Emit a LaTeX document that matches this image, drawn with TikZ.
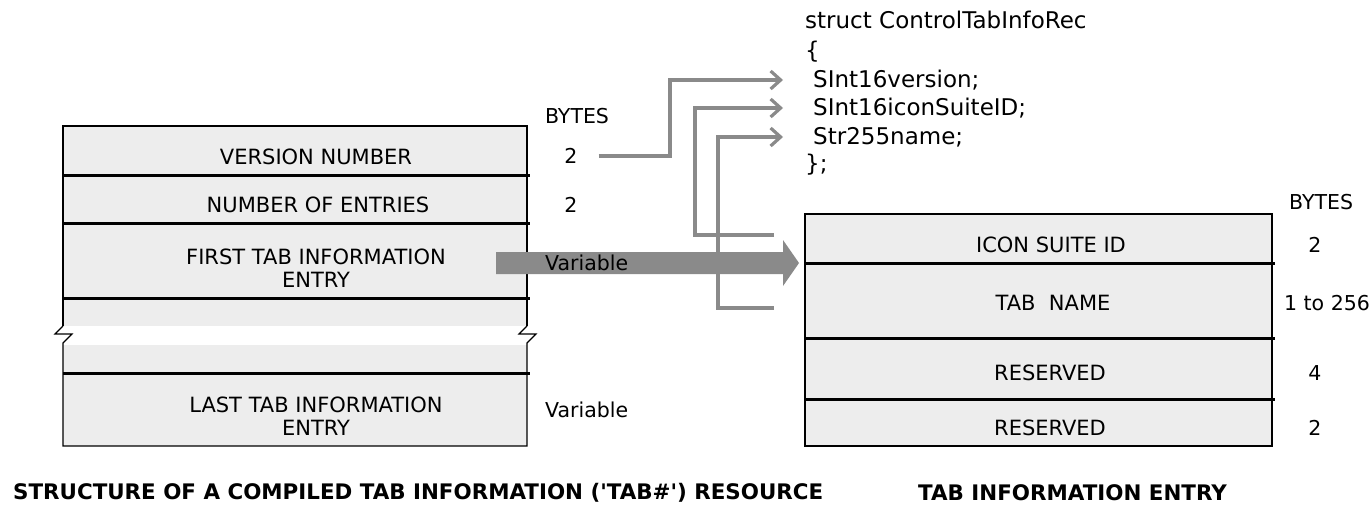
\documentclass[tikz,border=0pt]{standalone}
\usepackage{fontspec}
\setmainfont{DejaVu Sans}[Ligatures=TeXOff]
\usetikzlibrary{arrows.meta}
\definecolor{boxfill}{HTML}{EDEDED}
\definecolor{conncol}{HTML}{8A8A8A}
\begin{document}
\begin{tikzpicture}[x=1pt,y=-1pt,
  lbl/.style={font=\fontsize{21}{23.5}\selectfont, inner sep=0pt, align=center},
  side/.style={font=\fontsize{20.5}{24}\selectfont, inner sep=0pt},
  code/.style={font=\fontsize{23}{28}\selectfont, inner sep=0pt, anchor=west},
  ttl/.style={font=\fontsize{21.4}{24}\selectfont\bfseries, inner sep=0pt, anchor=west},
  sepline/.style={line width=3pt},
  frame/.style={line width=1.2pt},
  conn/.style={draw=conncol, line width=3.2pt, -{Straight Barb[length=10pt,width=18pt]}},
  bigarrow/.style={fill=conncol}]
\useasboundingbox (0,0) rectangle (1372,504);

% ---------- left structure ----------
\fill[boxfill] (63,126) rectangle (527,326);
\fill[boxfill] (63,345) rectangle (527,446);
\draw[frame] (63,326) -- (63,126) -- (527,126) -- (527,326);
\draw[frame] (63,326) -- (55,334) -- (72,334) -- (63,343) -- (63,446) -- (527,446)
  -- (527,343) -- (536,334) -- (519,334) -- (527,326);
\foreach \yy in {175,223,298,373} \draw[sepline] (63,\yy) -- (530,\yy);

\node[lbl] (vn) at (316,157) {VERSION NUMBER};
\node[lbl] (ne) at (318,205) {NUMBER OF ENTRIES};
\node[lbl] (ft) at (316,268) {FIRST TAB INFORMATION\\ENTRY};
\node[lbl] (lt) at (316,416) {LAST TAB INFORMATION\\ENTRY};

\node[side] (b1) at (577,116) {BYTES};
\node[side] (n1) at (571,156) {2};
\node[side] (n2) at (571,205) {2};
\node[side] (var2) at (545,410) [anchor=west] {Variable};

% ---------- big arrow ----------
\coordinate (ga1) at (496,263);
\coordinate (ga2) at (799,263);
\fill[bigarrow] (ga1) ++(0,-11) -- (783,252) -- (783,240) -- (ga2) -- (783,286)
  -- (783,274) -- (496,274) -- cycle;
\node[side] (var1) at (545,263) [anchor=west] {Variable};

% ---------- struct text ----------
\node[code] (s1) at (805,20) {struct ControlTabInfoRec};
\node[code] (s2) at (805,52) {\{};
\node[code] (s3) at (813,80) {SInt16version;};
\node[code] (s4) at (813,108) {SInt16iconSuiteID;};
\node[code] (s5) at (813,137) {Str255name;};
\node[code] (s6) at (805,165) {\};};

% ---------- right structure ----------
\filldraw[fill=boxfill, frame] (805,214) rectangle (1272,446);
\foreach \yy in {263,338,399} \draw[sepline] (805,\yy) -- (1275,\yy);

\node[lbl] (ic) at (1051,245) {ICON SUITE ID};
\node[lbl] (tn) at (1053,303) {TAB\ \ NAME};
\node[lbl] (r1) at (1050,373) {RESERVED};
\node[lbl] (r2) at (1050,428) {RESERVED};

\node[side] (b2) at (1321,202) {BYTES};
\node[side] (m1) at (1315,245) {2};
\node[side] (m2) at (1327,303) {1 to 256};
\node[side] (m3) at (1315,373) {4};
\node[side] (m4) at (1315,428) {2};

% ---------- connectors ----------
\coordinate (cx1) at (670,0);
\coordinate (cx2) at (695,0);
\coordinate (cx3) at (718,0);
\coordinate (t2) at (774,235);
\coordinate (t3) at (774,308);
\draw[conn, shorten <=21pt, shorten >=30pt] (n1.east) -- (n1.east -| cx1) |- (s3.west);
\draw[conn, shorten >=30pt] (t2) -- (t2 -| cx2) |- (s4.west);
\draw[conn, shorten >=30pt] (t3) -- (t3 -| cx3) |- (s5.west);

% ---------- titles ----------
\node[ttl] (tl) at (13,493) {STRUCTURE OF A COMPILED TAB INFORMATION ('TAB\#') RESOURCE};
\node[ttl] (tr) at (918,493) {TAB INFORMATION ENTRY};
\end{tikzpicture}
\end{document}
